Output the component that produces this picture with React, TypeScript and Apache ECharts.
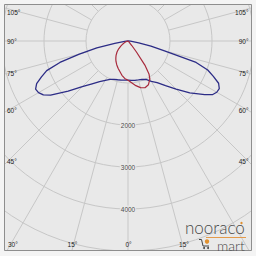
import React, { useEffect, useRef } from "react";
import * as echarts from "echarts";

// Photometric data (cd) by gamma angle, measured from the downward vertical
const gammaBlue = [0, 5, 10, 15, 20, 25, 30, 35, 40, 45, 50, 55, 57.5, 60, 62.5, 65, 67.5, 70, 72.5, 75, 77.5, 80, 85, 90];
const blueLeft = [930, 935, 945, 955, 970, 1010, 1080, 1180, 1330, 1540, 1860, 2250, 2390, 2460, 2480, 2400, 2230, 2060, 1700, 1200, 760, 320, 80, 0];
const blueRight = [930, 940, 950, 960, 975, 1010, 1110, 1210, 1390, 1620, 1920, 2230, 2380, 2440, 2450, 2380, 2200, 2020, 1700, 900, 560, 260, 60, 0];

const gammaRed = [0, 5, 10, 15, 20, 25, 30, 32.5, 35, 37.5, 40, 45, 50, 55, 60, 65, 70, 75, 80, 85, 90];
const redLeft = [935, 895, 830, 750, 690, 630, 570, 538, 505, 472, 440, 370, 290, 210, 140, 90, 50, 25, 10, 3, 0];
const redRight = [935, 1000, 1080, 1150, 1185, 1150, 1040, 930, 700, 330, 140, 30, 0, 0, 0, 0, 0, 0, 0, 0, 0];

const rayAngles = [0, 15, 30, 45, 60, 75, 90, 105, 120, 135, 150, 165, 180];
const radiusLabelValues = [2000, 3000, 4000];
const angleLabelTexts = ["105°", "90°", "75°", "60°", "45°", "30°", "15°", "0°"];

const PLOT_BG = "#e9e9e9";
const OUTER_BG = "#f4f4f4";
const GRID = "#c7c7c7";

function curveData(gammas: number[], left: number[], right: number[]) {
  const out: number[][] = [];
  for (let i = gammas.length - 1; i >= 0; i--) out.push([left[i], gammas[i]]);
  for (let i = 1; i < gammas.length; i++) out.push([right[i], 360 - gammas[i]]);
  return out;
}

function rayThetas() {
  const t: number[] = [];
  rayAngles.forEach((a) => {
    t.push(a);
    if (a !== 0 && a !== 180) t.push(360 - a);
  });
  return t;
}

export default function App() {
  const ref = useRef<HTMLDivElement>(null);
  useEffect(() => {
    if (!ref.current) return;
    const chart = echarts.init(ref.current, null, { renderer: "svg" });

    const raySeries = rayThetas().map((th) => ({
      type: "line",
      coordinateSystem: "polar",
      data: [
        [1000, th],
        [6000, th],
      ],
      symbol: "none",
      silent: true,
      z: 1,
      lineStyle: { color: GRID, width: 1 },
    }));

    const labelFont = { fontSize: 6.5, fontFamily: "Liberation Sans", fill: "#1a1a1a" };
    // layout positions for the angle labels (left column, right column, bottom row)
    const leftY = [12.5, 41, 73, 110.5, 161.5];
    const graphicTexts: any[] = [];
    angleLabelTexts.slice(0, 5).forEach((t, i) => {
      graphicTexts.push({ type: "text", x: 7, y: leftY[i], z: 110, style: { ...labelFont, text: t, align: "left", verticalAlign: "middle" } });
      graphicTexts.push({ type: "text", x: 248.5, y: leftY[i], z: 110, style: { ...labelFont, text: t, align: "right", verticalAlign: "middle" } });
    });
    graphicTexts.push({ type: "text", x: 8, y: 244, z: 110, style: { ...labelFont, text: angleLabelTexts[5], align: "left", verticalAlign: "middle" } });
    graphicTexts.push({ type: "text", x: 72.5, y: 244, z: 110, style: { ...labelFont, text: angleLabelTexts[6], align: "center", verticalAlign: "middle" } });
    graphicTexts.push({ type: "text", x: 184, y: 244, z: 110, style: { ...labelFont, text: angleLabelTexts[6], align: "center", verticalAlign: "middle" } });
    graphicTexts.push({ type: "text", x: 128.5, y: 244, z: 110, style: { ...labelFont, text: angleLabelTexts[7], align: "center", verticalAlign: "middle" } });

    const option: any = {
      animation: false,
      backgroundColor: PLOT_BG,
      polar: { center: [128, 41], radius: 252 },
      angleAxis: {
        type: "value",
        min: 0,
        max: 360,
        startAngle: 270,
        clockwise: true,
        axisLine: { show: false },
        axisTick: { show: false },
        axisLabel: { show: false },
        splitLine: { show: false },
      },
      radiusAxis: {
        type: "value",
        min: 0,
        max: 6000,
        interval: 1000,
        axisLine: { show: false },
        axisTick: { show: false },
        axisLabel: { show: false },
        splitLine: { show: true, lineStyle: { color: GRID, width: 1 } },
      },
      series: [
        ...raySeries,
        {
          type: "line",
          coordinateSystem: "polar",
          data: curveData(gammaBlue, blueLeft, blueRight),
          symbol: "none",
          z: 3,
          lineStyle: { color: "#2c2c86", width: 1.3 },
        },
        {
          type: "line",
          coordinateSystem: "polar",
          data: curveData(gammaRed, redLeft, redRight),
          symbol: "none",
          z: 3,
          lineStyle: { color: "#a82a3c", width: 1.2 },
        },
        {
          type: "scatter",
          coordinateSystem: "polar",
          data: radiusLabelValues.map((v) => [v, 0]),
          symbolSize: 0,
          z: 4,
          silent: true,
          label: {
            show: true,
            position: "inside",
            formatter: (p: any) => String(p.value[0]),
            fontSize: 6.5,
            fontFamily: "Liberation Sans",
            color: "#1a1a1a",
            backgroundColor: PLOT_BG,
            padding: [0, 1],
          },
        },
      ],
      graphic: [
        { type: "rect", z: 100, shape: { x: 0, y: 0, width: 256, height: 4 }, style: { fill: OUTER_BG } },
        { type: "rect", z: 100, shape: { x: 0, y: 251, width: 256, height: 5 }, style: { fill: OUTER_BG } },
        { type: "rect", z: 100, shape: { x: 0, y: 0, width: 4, height: 256 }, style: { fill: OUTER_BG } },
        { type: "rect", z: 100, shape: { x: 252, y: 0, width: 4, height: 256 }, style: { fill: OUTER_BG } },
        { type: "rect", z: 101, shape: { x: 4.5, y: 4.5, width: 247, height: 246 }, style: { fill: "none", stroke: "#8e8e8e", lineWidth: 1 } },
        ...graphicTexts,
        // logo
        { type: "text", x: 185, y: 236, z: 110, style: { text: "nooraco", fontSize: 17, lineHeight: 17, fontFamily: "Lato", fontWeight: 300, fill: "#4a4a4a", align: "left", verticalAlign: "bottom" } },
        { type: "circle", z: 110, shape: { cx: 241.5, cy: 223, r: 1.2 }, style: { fill: "#e0902e" } },
        { type: "line", z: 110, shape: { x1: 206, y1: 237.5, x2: 246, y2: 237.5 }, style: { stroke: "#e39a4a", lineWidth: 1 } },
        { type: "text", x: 217, y: 238.5, z: 110, style: { text: "mart", fontSize: 14, lineHeight: 14, fontFamily: "Lato", fontWeight: 300, fill: "#4a4a4a", align: "left", verticalAlign: "top" } },
        { type: "polyline", z: 110, shape: { points: [[199, 239.5], [201.5, 239.5], [203, 246], [209, 246]] }, style: { stroke: "#444", lineWidth: 1, fill: "none" } },
        { type: "circle", z: 110, shape: { cx: 204, cy: 248, r: 1 }, style: { fill: "#444" } },
        { type: "circle", z: 110, shape: { cx: 208, cy: 248, r: 1 }, style: { fill: "#444" } },
        { type: "circle", z: 111, shape: { cx: 207, cy: 241.5, r: 2.2 }, style: { fill: "#e0902e" } },
      ],
    };
    chart.setOption(option);
    return () => chart.dispose();
  }, []);
  return <div ref={ref} style={{ position: "fixed", left: 0, top: 0, width: 256, height: 256 }} />;
}
